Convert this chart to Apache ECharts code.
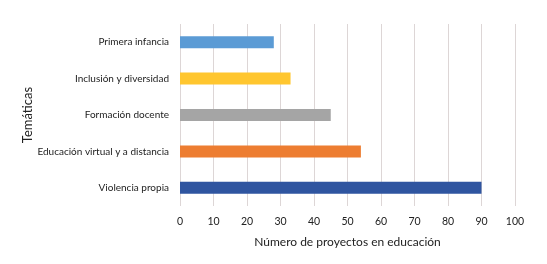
<!DOCTYPE html>
<html>
<head>
<meta charset="utf-8">
<script src="https://cdn.jsdelivr.net/npm/echarts@6/dist/echarts.min.js"></script>
<style>
  html,body{margin:0;padding:0;background:#fff;}
  #main{width:547px;height:264px;}
</style>
</head>
<body>
<div id="main"></div>
<script>
// categorías de abajo hacia arriba
var temas = ['Violencia propia', 'Educación virtual y a distancia', 'Formación docente', 'Inclusión y diversidad', 'Primera infancia'];
var proyectos = [90, 54, 45, 33, 28];
var colores = ['#2F55A0', '#ED7D31', '#A5A5A5', '#FFC62F', '#5B9BD5'];
var ticksX = [0, 10, 20, 30, 40, 50, 60, 70, 80, 90, 100];

var chart = echarts.init(document.getElementById('main'));
var fuente = 'Lato';
var option = {
  animation: false,
  grid: {left: 180, right: 32, top: 24, bottom: 58, outerBoundsMode: 'none'},
  xAxis: {
    type: 'value',
    min: ticksX[0],
    max: ticksX[ticksX.length - 1],
    interval: 10,
    name: 'Número de proyectos en educación',
    nameLocation: 'middle',
    nameGap: 30,
    nameMoveOverlap: false,
    nameTextStyle: {fontFamily: fuente, fontSize: 12, color: '#222'},
    axisLine: {show: false},
    axisTick: {show: false},
    axisLabel: {fontFamily: fuente, fontSize: 10.5, color: '#222', margin: 10},
    splitLine: {show: true, lineStyle: {color: '#DDD6D6', width: 1}}
  },
  yAxis: {
    type: 'category',
    data: temas,
    name: 'Temáticas',
    nameLocation: 'middle',
    nameRotate: 90,
    nameGap: 146,
    nameMoveOverlap: false,
    nameTextStyle: {fontFamily: fuente, fontSize: 13, color: '#222'},
    axisLine: {show: false},
    axisTick: {show: false},
    axisLabel: {fontFamily: fuente, fontSize: 10, color: '#222', margin: 11}
  },
  series: [{
    type: 'bar',
    barWidth: 12,
    data: proyectos.map(function (v, i) {
      return {value: v, itemStyle: {color: colores[i]}};
    })
  }]
};
chart.setOption(option);
</script>
</body>
</html>
